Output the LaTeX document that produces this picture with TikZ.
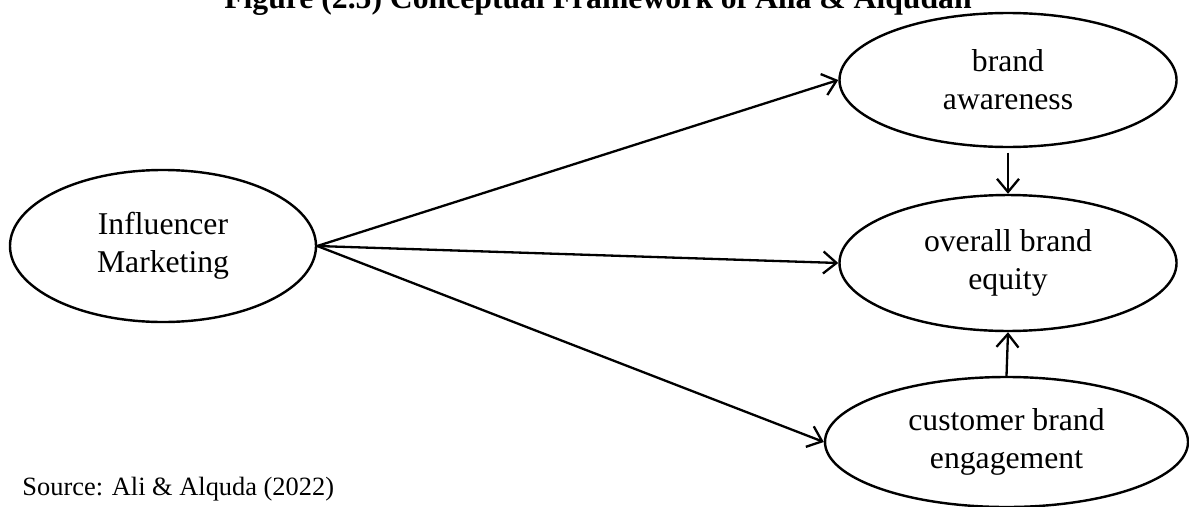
\documentclass[tikz,border=0pt]{standalone}
\usepackage{fontspec}
\setmainfont{Liberation Serif}
\usetikzlibrary{shapes.geometric,arrows.meta}
\tikzset{
  ell/.style={ellipse, draw, line width=1.1pt, inner sep=0pt, align=center,
    font=\fontsize{14.4}{17.3}\selectfont},
  conn/.style={line width=1.05pt, -{Straight Barb[length=6pt,width=10pt,line width=1.05pt]}},
}
\begin{document}
\begin{tikzpicture}[x=0.454545pt, y=-0.454545pt]
\useasboundingbox (0,0) rectangle (1189,506);
\clip (0,0) rectangle (1189,506);
\node[anchor=base, font=\fontsize{14.4}{17.3}\selectfont\bfseries] (title) at (598,8)
  {Figure (2.5) Conceptual Framework of Alia \& Alqudah};
\node[ell, minimum width=139.1pt, minimum height=69.1pt] (im) at (163,246) {Influencer\\Marketing};
\node[ell, minimum width=153.2pt, minimum height=60.9pt] (ba) at (1008,80) {brand\\awareness};
\node[ell, minimum width=153.2pt, minimum height=61.8pt] (obe) at (1008,263) {overall brand\\equity};
\node[ell, minimum width=165pt, minimum height=59.1pt] (cbe) at (1006.5,442) {customer brand\\engagement};
\node[anchor=base west, inner sep=0pt, font=\fontsize{12}{14.4}\selectfont] (src) at (22,495)
  {Source: Ali \& Alquda (2022)};
\draw[conn] (im.east) -- (ba.west);
\draw[conn] (im.east) -- (obe.west);
\draw[conn] (im.east) -- (cbe.west);
\draw[conn, shorten <=2pt] (ba.south) -- (obe.north);
\draw[conn] (cbe.north) -- (obe.south);
\end{tikzpicture}
\end{document}
